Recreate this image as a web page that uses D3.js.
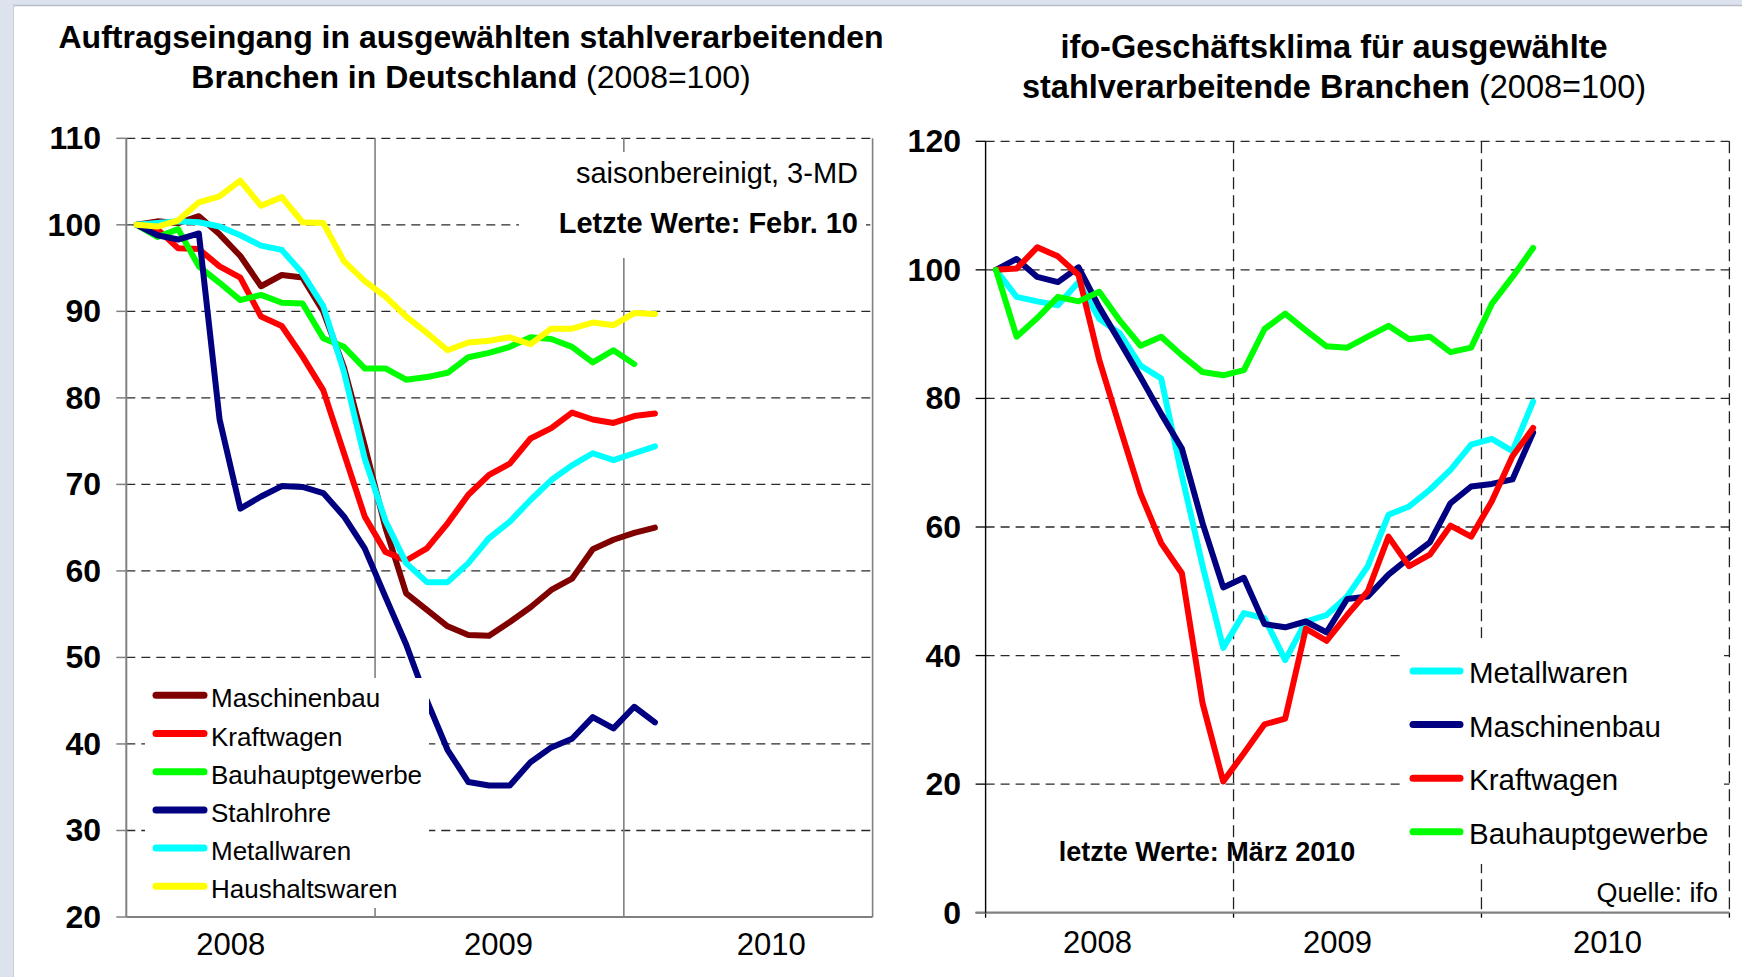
<!DOCTYPE html>
<html>
<head>
<meta charset="utf-8">
<script src="https://cdn.jsdelivr.net/npm/d3@7/dist/d3.min.js"></script>
<style>
  body { margin: 0; background: #ffffff; }
  text { font-family: "Liberation Sans", Arial, sans-serif; fill: #000; }
</style>
</head>
<body>
<div id="chart"></div>
<script>
var width = 1742,
    height = 977;

var years = ["2008", "2009", "2010"];

// Auftragseingang, Jan 2008 - Feb 2010 (2008=100)
var ordMaschinenbau = [100, 100.4, 100.2, 101.0, 98.9, 96.4, 92.9, 94.2, 93.9, 90.0, 83.5, 74.5, 65.0, 57.4, 55.5, 53.6, 52.6, 52.5, 54.1, 55.8, 57.8, 59.1, 62.5, 63.6, 64.4, 65.0];
var ordKraftwagen = [100, 99.5, 97.3, 97.2, 95.2, 93.9, 89.4, 88.3, 84.8, 80.9, 73.6, 66.3, 62.2, 61.2, 62.6, 65.5, 68.8, 71.1, 72.4, 75.3, 76.5, 78.3, 77.5, 77.1, 77.9, 78.2];
var ordBauhaupt = [100, 98.6, 99.5, 95.2, 93.3, 91.3, 91.9, 91.0, 90.9, 86.9, 85.9, 83.4, 83.4, 82.1, 82.4, 82.9, 84.7, 85.2, 85.9, 87.0, 86.8, 85.9, 84.1, 85.5, 83.9];
var ordStahlrohre = [100, 98.8, 98.3, 99.0, 77.5, 67.2, 68.6, 69.8, 69.7, 69.0, 66.3, 62.6, 57.0, 51.5, 45.0, 39.3, 35.6, 35.2, 35.2, 37.9, 39.6, 40.6, 43.1, 41.8, 44.3, 42.5];
var ordMetallwaren = [100, 100.2, 100.4, 100.3, 99.8, 98.8, 97.6, 97.1, 94.4, 90.6, 83.0, 73.0, 65.8, 60.9, 58.7, 58.7, 60.9, 63.8, 65.7, 68.2, 70.5, 72.2, 73.6, 72.8, 73.6, 74.4];
var ordHaushalt = [100, 99.8, 100.5, 102.6, 103.3, 105.1, 102.2, 103.2, 100.3, 100.2, 95.8, 93.5, 91.7, 89.4, 87.5, 85.5, 86.4, 86.6, 87.0, 86.2, 88.0, 88.0, 88.7, 88.4, 89.8, 89.7];

// ifo-Geschaeftsklima, Jan 2008 - Mar 2010 (2008=100)
var ifoMetallwaren = [100, 95.8, 95.1, 94.5, 98.1, 92.4, 90.1, 85.1, 83.1, 68.0, 54.0, 41.2, 46.6, 45.8, 39.3, 45.3, 46.3, 49.2, 53.9, 61.9, 63.2, 65.8, 68.9, 72.8, 73.7, 71.8, 79.5];
var ifoMaschinenbau = [100, 101.7, 98.9, 98.1, 100.4, 94.2, 88.8, 83.3, 77.6, 72.2, 60.6, 50.6, 52.1, 44.9, 44.4, 45.3, 43.6, 48.8, 49.2, 52.6, 55.2, 57.6, 63.7, 66.3, 66.7, 67.4, 74.7];
var ifoKraftwagen = [100, 100.2, 103.5, 102.1, 99.2, 86.0, 75.5, 65.2, 57.5, 52.8, 32.6, 20.4, 24.8, 29.3, 30.2, 44.2, 42.3, 46.3, 50.0, 58.5, 53.9, 55.7, 60.2, 58.5, 64.0, 71.0, 75.4];
var ifoBauhaupt = [100, 89.6, 92.5, 95.8, 95.1, 96.6, 92.1, 88.2, 89.6, 86.7, 84.1, 83.6, 84.4, 90.8, 93.2, 90.6, 88.1, 87.9, 89.6, 91.3, 89.2, 89.6, 87.2, 87.9, 94.7, 98.9, 103.4];

var leftTicks = [20, 30, 40, 50, 60, 70, 80, 90, 100, 110];
var rightTicks = [0, 20, 40, 60, 80, 100, 120];

var leftSeries = [
  {name: "Maschinenbau", color: "#800000", values: ordMaschinenbau},
  {name: "Kraftwagen", color: "#ff0000", values: ordKraftwagen},
  {name: "Bauhauptgewerbe", color: "#00ff00", values: ordBauhaupt},
  {name: "Stahlrohre", color: "#000080", values: ordStahlrohre},
  {name: "Metallwaren", color: "#00ffff", values: ordMetallwaren},
  {name: "Haushaltswaren", color: "#ffff00", values: ordHaushalt}
];
var rightSeries = [
  {name: "Metallwaren", color: "#00ffff", values: ifoMetallwaren},
  {name: "Maschinenbau", color: "#000080", values: ifoMaschinenbau},
  {name: "Kraftwagen", color: "#ff0000", values: ifoKraftwagen},
  {name: "Bauhauptgewerbe", color: "#00ff00", values: ifoBauhaupt}
];

var svg = d3.select("#chart").append("svg")
    .attr("width", width)
    .attr("height", height);

// frame
svg.append("rect").attr("width", width).attr("height", height).attr("fill", "#dce3ef");
svg.append("rect").attr("x", 13).attr("y", 5).attr("width", width - 13).attr("height", height - 5).attr("fill", "#ffffff");
svg.append("line").attr("x1", 13).attr("x2", width).attr("y1", 5.5).attr("y2", 5.5).style("stroke", "#b8bcc4").style("stroke-width", 1.5);
svg.append("line").attr("x1", 13.5).attr("x2", 13.5).attr("y1", 5).attr("y2", height).style("stroke", "#c8ccd4").style("stroke-width", 1);

var dash = "9,6";

function monthLine(x, y) {
  return d3.line()
    .x(function(d, i) { return x(i + 0.5); })
    .y(function(d) { return y(d); })
    .curve(d3.curveLinear);
}

// ---------- left panel ----------
var xL = d3.scaleLinear().domain([0, 36]).range([126.3, 872.6]);
var yL = d3.scaleLinear().domain([20, 110]).range([917, 138.3]);
var gL = svg.append("g");

gL.selectAll(".hgrid").data(leftTicks.filter(function(d) { return d > 20; }))
  .enter().append("line")
    .attr("x1", xL(0)).attr("x2", xL(36))
    .attr("y1", function(d) { return yL(d); })
    .attr("y2", function(d) { return yL(d); })
    .style("stroke", "#2a2a2a")
    .style("stroke-width", 1.3)
    .style("stroke-dasharray", dash);

gL.selectAll(".ytick").data(leftTicks)
  .enter().append("line")
    .attr("x1", xL(0) - 10).attr("x2", xL(0))
    .attr("y1", function(d) { return yL(d); })
    .attr("y2", function(d) { return yL(d); })
    .style("stroke", "#808080")
    .style("stroke-width", 1.5);

gL.selectAll(".vgrid").data([12, 24, 36])
  .enter().append("line")
    .attr("x1", function(d) { return xL(d); })
    .attr("x2", function(d) { return xL(d); })
    .attr("y1", yL(110)).attr("y2", yL(20))
    .style("stroke", "#808080")
    .style("stroke-width", 1.6);

gL.append("line").attr("x1", xL(0)).attr("x2", xL(0)).attr("y1", yL(110)).attr("y2", yL(20))
  .style("stroke", "#808080").style("stroke-width", 2);
gL.append("line").attr("x1", xL(0)).attr("x2", xL(36)).attr("y1", yL(20)).attr("y2", yL(20))
  .style("stroke", "#808080").style("stroke-width", 2);

gL.selectAll(".ylab").data(leftTicks)
  .enter().append("text")
    .attr("x", 101)
    .attr("y", function(d) { return yL(d) + 11; })
    .attr("text-anchor", "end")
    .attr("font-size", 32)
    .attr("font-weight", "bold")
    .text(function(d) { return d; });

var leftYearShift = [-20, -1, 23];
gL.selectAll(".xlab").data(years)
  .enter().append("text")
    .attr("x", function(d, i) { return xL(i * 12 + 6) + leftYearShift[i]; })
    .attr("y", 955)
    .attr("text-anchor", "middle")
    .attr("font-size", 31)
    .text(function(d) { return d; });

// annotation box covers grid
gL.append("rect").attr("x", 519).attr("y", 152).attr("width", 347).attr("height", 106).attr("fill", "#fff");
gL.append("text").attr("x", 858).attr("y", 183).attr("text-anchor", "end").attr("font-size", 29)
  .text("saisonbereinigt, 3-MD");
gL.append("text").attr("x", 858).attr("y", 233).attr("text-anchor", "end").attr("font-size", 29)
  .attr("font-weight", "bold").text("Letzte Werte: Febr. 10");

var lineL = monthLine(xL, yL);
gL.selectAll(".series").data(leftSeries)
  .enter().append("path")
    .attr("d", function(d) { return lineL(d.values); })
    .style("fill", "none")
    .style("stroke", function(d) { return d.color; })
    .style("stroke-width", 6)
    .style("stroke-linejoin", "round")
    .style("stroke-linecap", "round");

// legend
gL.append("rect").attr("x", 145).attr("y", 678).attr("width", 284).attr("height", 230).attr("fill", "#fff");
var legL = gL.selectAll(".legL").data(leftSeries)
  .enter().append("g")
    .attr("transform", function(d, i) { return "translate(0," + (695.3 + i * 38.2) + ")"; });
legL.append("line").attr("x1", 156).attr("x2", 204).attr("y1", 0).attr("y2", 0)
  .style("stroke", function(d) { return d.color; })
  .style("stroke-width", 7)
  .style("stroke-linecap", "round");
legL.append("text").attr("x", 211).attr("y", 12).attr("font-size", 26)
  .text(function(d) { return d.name; });

// title
gL.append("text").attr("x", 471).attr("y", 48).attr("text-anchor", "middle")
  .attr("font-size", 32).attr("font-weight", "bold")
  .text("Auftragseingang in ausgewählten stahlverarbeitenden");
var t2 = gL.append("text").attr("x", 471).attr("y", 88).attr("text-anchor", "middle").attr("font-size", 32);
t2.append("tspan").attr("font-weight", "bold").text("Branchen in Deutschland");
t2.append("tspan").text(" (2008=100)");

// ---------- right panel ----------
var xR = d3.scaleLinear().domain([0, 36]).range([985.6, 1729.4]);
var yR = d3.scaleLinear().domain([0, 120]).range([912.7, 141.3]);
var gR = svg.append("g");

gR.selectAll(".hgrid").data(rightTicks.filter(function(d) { return d > 0; }))
  .enter().append("line")
    .attr("x1", xR(0)).attr("x2", xR(36))
    .attr("y1", function(d) { return yR(d); })
    .attr("y2", function(d) { return yR(d); })
    .style("stroke", "#2a2a2a")
    .style("stroke-width", 1.3)
    .style("stroke-dasharray", dash);

gR.selectAll(".vgrid").data([12, 24, 36])
  .enter().append("line")
    .attr("x1", function(d) { return xR(d); })
    .attr("x2", function(d) { return xR(d); })
    .attr("y1", yR(120)).attr("y2", yR(0))
    .style("stroke", "#222")
    .style("stroke-width", 1.3)
    .style("stroke-dasharray", "12,6");

gR.selectAll(".ytick").data(rightTicks)
  .enter().append("line")
    .attr("x1", xR(0) - 10).attr("x2", xR(0))
    .attr("y1", function(d) { return yR(d); })
    .attr("y2", function(d) { return yR(d); })
    .style("stroke", "#000")
    .style("stroke-width", 1.3);

gR.selectAll(".xtick").data([0, 12, 24, 36])
  .enter().append("line")
    .attr("x1", function(d) { return xR(d); })
    .attr("x2", function(d) { return xR(d); })
    .attr("y1", yR(0)).attr("y2", yR(0) + 5)
    .style("stroke", "#000")
    .style("stroke-width", 1.3);

gR.append("line").attr("x1", xR(0) - 10).attr("x2", xR(36)).attr("y1", yR(0)).attr("y2", yR(0))
  .style("stroke", "#808080").style("stroke-width", 2.2);
gR.append("line").attr("x1", xR(0)).attr("x2", xR(0)).attr("y1", yR(120)).attr("y2", yR(0))
  .style("stroke", "#000").style("stroke-width", 1.4);

gR.selectAll(".ylab").data(rightTicks)
  .enter().append("text")
    .attr("x", 961)
    .attr("y", function(d) { return yR(d) + 11; })
    .attr("text-anchor", "end")
    .attr("font-size", 32)
    .attr("font-weight", "bold")
    .text(function(d) { return d; });

var rightYearShift = [-12, -20, 2];
gR.selectAll(".xlab").data(years)
  .enter().append("text")
    .attr("x", function(d, i) { return xR(i * 12 + 6) + rightYearShift[i]; })
    .attr("y", 953)
    .attr("text-anchor", "middle")
    .attr("font-size", 31)
    .text(function(d) { return d; });

var lineR = monthLine(xR, yR);
gR.selectAll(".series").data(rightSeries)
  .enter().append("path")
    .attr("d", function(d) { return lineR(d.values); })
    .style("fill", "none")
    .style("stroke", function(d) { return d.color; })
    .style("stroke-width", 6)
    .style("stroke-linejoin", "round")
    .style("stroke-linecap", "round");

gR.append("rect").attr("x", 1405).attr("y", 638).attr("width", 319).attr("height", 226).attr("fill", "#fff");
var legR = gR.selectAll(".legR").data(rightSeries)
  .enter().append("g")
    .attr("transform", function(d, i) { return "translate(0," + (671 + i * 53.6) + ")"; });
legR.append("line").attr("x1", 1413).attr("x2", 1460).attr("y1", 0).attr("y2", 0)
  .style("stroke", function(d) { return d.color; })
  .style("stroke-width", 7)
  .style("stroke-linecap", "round");
legR.append("text").attr("x", 1469).attr("y", 12).attr("font-size", 29.5)
  .text(function(d) { return d.name; });

gR.append("text").attr("x", 1207).attr("y", 861).attr("text-anchor", "middle")
  .attr("font-size", 27).attr("font-weight", "bold").text("letzte Werte: März 2010");
gR.append("text").attr("x", 1718).attr("y", 902).attr("text-anchor", "end")
  .attr("font-size", 27).text("Quelle: ifo");

gR.append("text").attr("x", 1334).attr("y", 58).attr("text-anchor", "middle")
  .attr("font-size", 32.5).attr("font-weight", "bold")
  .text("ifo-Geschäftsklima für ausgewählte");
var t3 = gR.append("text").attr("x", 1334).attr("y", 98).attr("text-anchor", "middle").attr("font-size", 32.5);
t3.append("tspan").attr("font-weight", "bold").text("stahlverarbeitende Branchen");
t3.append("tspan").text(" (2008=100)");
</script>
</body>
</html>
